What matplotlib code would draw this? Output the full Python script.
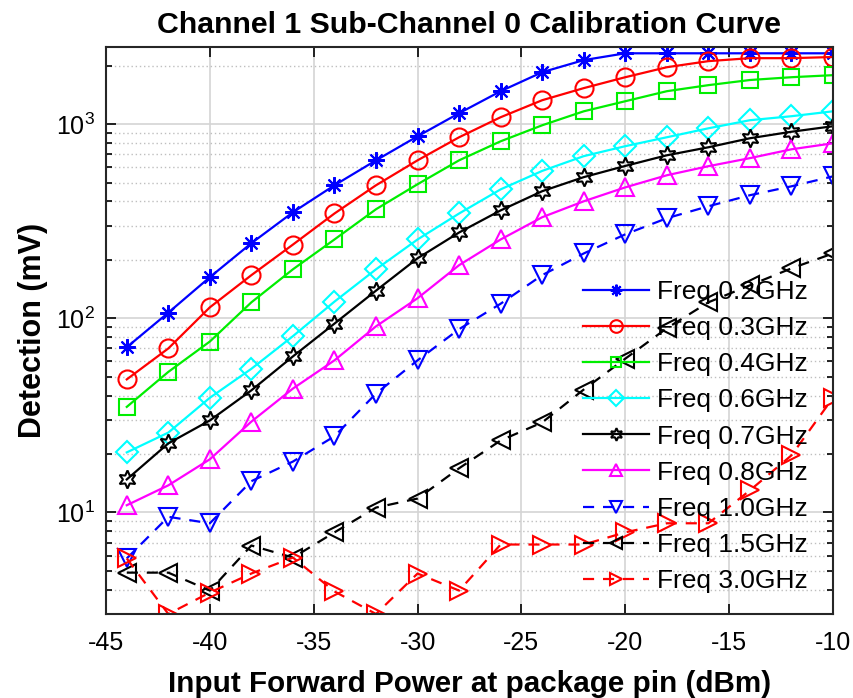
import matplotlib
matplotlib.use("Agg")
import matplotlib.pyplot as plt
from matplotlib.ticker import LogLocator, NullFormatter, FixedLocator
import numpy as np

plt.rcParams['font.family'] = ['Liberation Sans', 'DejaVu Sans']
plt.rcParams['mathtext.fontset'] = 'custom'
plt.rcParams['mathtext.rm'] = 'Liberation Sans'
plt.rcParams['axes.unicode_minus'] = False

# potencia de entrada [dBm]
pin = [-44, -42, -40, -38, -36, -34, -32, -30, -28, -26, -24, -22, -20, -18, -16, -14, -12, -10]

# deteccao [mV] por frequencia
f02 = [71, 107, 163, 244, 352, 485, 652, 867, 1140, 1480, 1854, 2140, 2320, 2320, 2320, 2320, 2320, 2320]
f03 = [48.5, 70, 114, 167, 240, 347, 485, 652, 857, 1087, 1330, 1535, 1747, 1967, 2114, 2190, 2190, 2220]
f04 = [35, 53, 76, 121, 179, 255, 365, 491, 652, 817, 988, 1166, 1314, 1480, 1590, 1690, 1747, 1790]
f06 = [20.4, 25.8, 39, 55, 81, 122, 179, 255, 347, 462, 575, 685, 771, 857, 953, 1049, 1100, 1166]
f07 = [14.8, 22.7, 29.8, 42.6, 63.7, 94, 139, 204, 277, 360, 452, 534, 610, 692, 761, 847, 915, 977]
f08 = [10.9, 13.8, 18.8, 29.4, 43.5, 60.8, 91, 127, 188, 255, 332, 401, 473, 546, 608, 669, 743, 798]
f10 = [5.8, 9.5, 8.8, 14.5, 18.3, 24.7, 41, 60.8, 88, 119, 167, 216, 271, 328, 378, 431, 479, 539]
f15 = [4.9, 4.9, 3.96, 6.76, 5.86, 7.9, 10.6, 11.8, 16.9, 23.5, 29.1, 43, 62, 89, 121, 148, 181, 216]
f30 = [5.8, 3.0, 3.87, 4.85, 5.86, 3.92, 3.0, 4.85, 3.96, 6.84, 6.84, 6.84, 7.9, 8.8, 8.8, 13, 19.7, 39]

labels = ['Freq 0.2GHz', 'Freq 0.3GHz', 'Freq 0.4GHz', 'Freq 0.6GHz', 'Freq 0.7GHz',
          'Freq 0.8GHz', 'Freq 1.0GHz', 'Freq 1.5GHz', 'Freq 3.0GHz']

series = [f02, f03, f04, f06, f07, f08, f10, f15, f30]
cores = ['#0000ff', '#ff0000', '#00ee00', '#00ffff', '#000000', '#ff00ff', '#0000ff', '#000000', '#ff0000']
marcadores = [(8, 2, 0), 'o', 's', 'D', (6, 1, 0), '^', 'v', '<', '>']
tamanhos = [12, 13, 11, 11, 13, 13, 13, 13, 13]
estilos = ['-', '-', '-', '-', '-', '-', '--', '--', '--']

fig = plt.figure(figsize=(8.54, 6.98), dpi=100)
ax = fig.add_axes([106/854, 1-614/698, (833-106)/854, (614-47)/698])

for y, c, m, ms, ls, lab in zip(series, cores, marcadores, tamanhos, estilos, labels):
    ax.plot(pin, y, linestyle=ls, color=c, marker=m, markersize=ms,
            markerfacecolor='none', markeredgecolor=c, markeredgewidth=1.5,
            linewidth=1.6, label=lab, dashes=(5, 4) if ls == '--' else (None, None))

ax.set_yscale('log')
ax.set_xlim(-45, -10)
ax.set_ylim(3, 2500)
ax.set_xticks(np.arange(-45, -9, 5))
ax.yaxis.set_major_locator(FixedLocator([10, 100, 1000]))
ax.yaxis.set_minor_locator(LogLocator(base=10, subs=np.arange(2, 10)))
ax.yaxis.set_minor_formatter(NullFormatter())
ax.set_yticklabels([r'$10^1$', r'$10^2$', r'$10^3$'])

ax.grid(True, which='major', color='#d4d4d4', linestyle='-', linewidth=1.2)
ax.grid(True, which='minor', axis='y', color='#bfbfbf', linestyle=(0, (1, 2)), linewidth=1.0)
ax.set_axisbelow(True)

ax.tick_params(which='both', direction='in', top=True, right=True, width=1.2)
ax.tick_params(which='major', length=7, labelsize=18)
ax.tick_params(axis='x', which='major', pad=12)
ax.tick_params(axis='y', which='major', pad=8)
ax.tick_params(which='minor', length=4)
for s in ax.spines.values():
    s.set_linewidth(1.5)
    s.set_color('#262626')

ax.set_title('Channel 1 Sub-Channel 0 Calibration Curve', fontsize=21.8, fontweight='bold', pad=10)
ax.set_xlabel('Input Forward Power at package pin (dBm)', fontsize=21.3, fontweight='bold', labelpad=11)
ax.set_ylabel('Detection (mV)', fontsize=22, fontweight='bold', labelpad=6)

leg = ax.legend(loc='upper left', bbox_to_anchor=(583/854, 1-280/698), bbox_transform=fig.transFigure,
                frameon=False, fontsize=19, numpoints=1, handlelength=2.5, handletextpad=0.3,
                labelspacing=0.46, borderpad=0, borderaxespad=0, markerscale=0.7)

fig.savefig('out.png', dpi=100)
